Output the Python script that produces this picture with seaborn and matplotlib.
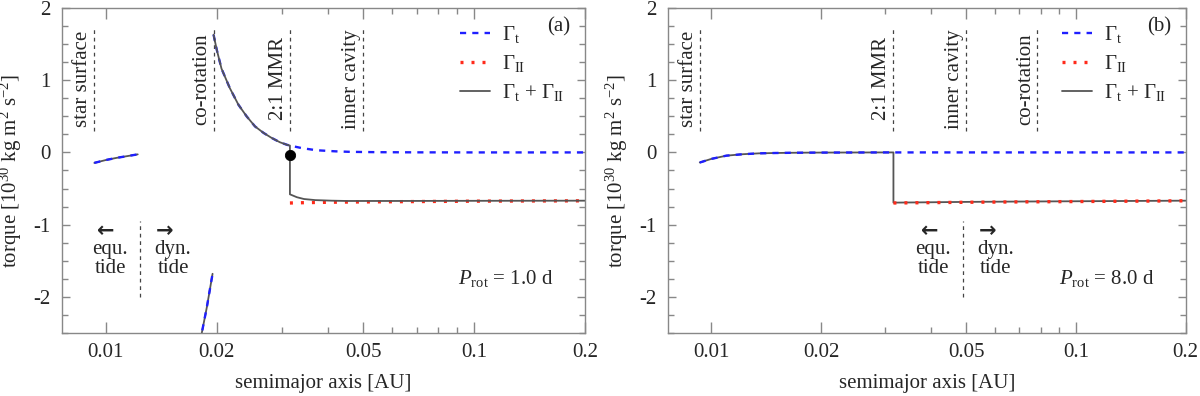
import numpy as np
import pandas as pd
import matplotlib
matplotlib.use("Agg")
import matplotlib.pyplot as plt
import seaborn as sns
from matplotlib.ticker import FixedLocator, FixedFormatter, NullFormatter
from matplotlib.lines import Line2D

sns.set_style("ticks")
plt.rcParams["font.family"] = ["Liberation Serif", "DejaVu Serif"]
plt.rcParams["mathtext.fontset"] = "custom"
plt.rcParams["mathtext.rm"] = "Liberation Serif"
plt.rcParams["mathtext.it"] = "Liberation Serif:italic"
plt.rcParams["font.size"] = 15

# ---------------- data ----------------
panel_tags = ["(a)", "(b)"]
prot_values = ["1.0", "8.0"]

x_tick_vals = [0.01, 0.02, 0.05, 0.1, 0.2]
x_tick_labels = ["0.01", "0.02", "0.05", "0.1", "0.2"]
x_minor_vals = [0.03, 0.04, 0.06, 0.07, 0.08, 0.09]
y_tick_vals = [-2, -1, 0, 1, 2]
y_tick_labels = ["-2", "-1", "0", "1", "2"]

# panel (a)
a_t1_x = [0.0093, 0.0100, 0.0107, 0.0114, 0.0122]
a_t1_y = [-0.145, -0.105, -0.075, -0.052, -0.027]
a_t2_x = [0.0180, 0.0188, 0.01948]
a_t2_y = [-2.63, -2.14, -1.68]
a_t3_x = [0.0196, 0.0200, 0.0206, 0.0217, 0.0229, 0.0241, 0.0254, 0.0268, 0.0282,
          0.0297, 0.0310, 0.0316, 0.0340, 0.0373, 0.0420, 0.0460, 0.0550, 0.0700,
          0.100, 0.140, 0.200]
a_t3_y = [1.63, 1.42, 1.16, 0.89, 0.66, 0.50, 0.36, 0.27, 0.20,
          0.14, 0.106, 0.095, 0.06, 0.03, 0.015, 0.008, 0.003, 0.001,
          0.0, 0.0, 0.0]
a_ii_x = [0.0316, 0.0350, 0.0400, 0.0500, 0.0700, 0.1000, 0.1400, 0.2000]
a_ii_y = [-0.70, -0.695, -0.69, -0.685, -0.68, -0.675, -0.672, -0.67]
a_sum_x = [0.0196, 0.0200, 0.0206, 0.0217, 0.0229, 0.0241, 0.0254, 0.0268, 0.0282,
           0.0297, 0.0310, 0.0316, 0.0316, 0.0330, 0.0345, 0.0370, 0.0410, 0.0450,
           0.0600, 0.1000, 0.2000]
a_sum_y = [1.63, 1.42, 1.16, 0.89, 0.66, 0.50, 0.36, 0.27, 0.20,
           0.14, 0.106, 0.095, -0.58, -0.62, -0.645, -0.66, -0.668, -0.672,
           -0.672, -0.67, -0.668]
a_dot_x = [0.0316]
a_dot_y = [-0.03]
a_mark_x = [0.0093, 0.0196, 0.0316, 0.05]
a_mark_labels = ["star surface", "co-rotation", "2:1 MMR", "inner cavity"]
a_tide_x = 0.01237

# panel (b)
b_t_x = [0.0093, 0.0100, 0.0110, 0.0122, 0.0135, 0.0150, 0.0166, 0.0185, 0.0210,
         0.0250, 0.0316, 0.0500, 0.1000, 0.2000]
b_t_y = [-0.14, -0.09, -0.045, -0.025, -0.013, -0.008, -0.005, -0.003, -0.002,
         -0.001, 0.0, 0.0, 0.0, 0.0]
b_ii_x = [0.0316, 0.0400, 0.0500, 0.0700, 0.1000, 0.1400, 0.2000]
b_ii_y = [-0.70, -0.695, -0.69, -0.685, -0.68, -0.675, -0.67]
b_sum_x = [0.0093, 0.0100, 0.0110, 0.0122, 0.0135, 0.0150, 0.0166, 0.0185, 0.0210,
           0.0250, 0.0316, 0.0316, 0.0400, 0.0500, 0.0700, 0.1000, 0.1400, 0.2000]
b_sum_y = [-0.14, -0.09, -0.045, -0.025, -0.013, -0.008, -0.005, -0.003, -0.002,
           -0.001, 0.0, -0.695, -0.69, -0.685, -0.68, -0.676, -0.672, -0.668]
b_mark_x = [0.0093, 0.0316, 0.05, 0.0784]
b_mark_labels = ["star surface", "2:1 MMR", "inner cavity", "co-rotation"]
b_tide_x = 0.049

# ---------------- styles ----------------
BLUE = "#1f1fff"
RED = "#ff2a1a"
GREY = "#555555"
SPINE = "#888888"
FS = 15

lab_t = r"$\Gamma_{\rm t}$"
lab_ii = r"$\Gamma_{\rm II}$"
lab_sum = r"$\Gamma_{\rm t}$ + $\Gamma_{\rm II}$"

STY = {
    "t": dict(color=BLUE, lw=1.7, dashes=(2.6, 2.6)),
    "ii": dict(color=RED, lw=2.4, dashes=(0.9, 2.4)),
    "sum": dict(color=GREY, lw=1.3),
}

fig = plt.figure(figsize=(12, 3.96), dpi=100)
ax_a = fig.add_axes([0.0517, 0.159, 0.4358, 0.821])
ax_b = fig.add_axes([0.5565, 0.159, 0.4315, 0.821])


def line(ax, xs, ys, kind):
    df = pd.DataFrame({"x": xs, "y": ys})
    sns.lineplot(data=df, x="x", y="y", ax=ax, sort=False, estimator=None,
                 legend=False, **STY[kind])


def decorate(ax, mark_x, mark_labels, tide_x, tag, prot):
    ax.set_xscale("log")
    ax.set_xlim(0.0076, 0.2)
    ax.set_ylim(-2.5, 2)
    ax.xaxis.set_major_locator(FixedLocator(x_tick_vals))
    ax.xaxis.set_major_formatter(FixedFormatter(x_tick_labels))
    ax.xaxis.set_minor_locator(FixedLocator(x_minor_vals))
    ax.xaxis.set_minor_formatter(NullFormatter())
    ax.yaxis.set_major_locator(FixedLocator(y_tick_vals))
    ax.yaxis.set_major_formatter(FixedFormatter(y_tick_labels))
    ax.yaxis.set_minor_locator(FixedLocator(np.arange(-2.5, 2.01, 0.25)))
    ax.tick_params(which="both", direction="in", top=True, right=True,
                   color=SPINE, width=1.0, labelsize=FS)
    ax.tick_params(axis="x", which="major", length=8, pad=7)
    ax.tick_params(axis="x", which="minor", length=4.5)
    ax.tick_params(axis="y", which="major", length=6, pad=8)
    ax.tick_params(axis="y", which="minor", length=4)
    for s in ax.spines.values():
        s.set_color(SPINE)
        s.set_linewidth(1.0)
    ax.set_xlabel("semimajor axis [AU]", fontsize=FS, labelpad=9)
    ax.set_ylabel(r"torque [10$^{30}$ kg m$^2$ s$^{-2}$]", fontsize=FS, labelpad=7)

    for mx, ml in zip(mark_x, mark_labels):
        ax.vlines(mx, 0.3, 1.75, colors="#444444", lw=0.9, linestyles=(0, (3, 3)))
        ax.text(mx / 1.075, 1.02, ml, rotation=90, ha="center", va="center",
                fontsize=FS)
    ax.vlines(tide_x, -2.0, -0.95, colors="#444444", lw=0.9, linestyles=(0, (3, 3)))
    ax.text(tide_x * 0.81, -1.09, "\u2190", ha="center", va="center", fontsize=15,
            family=["DejaVu Sans"], fontweight="bold")
    ax.text(tide_x * 1.165, -1.09, "\u2192", ha="center", va="center", fontsize=15,
            family=["DejaVu Sans"], fontweight="bold")
    ax.text(tide_x * 0.83, -1.47, "equ.\ntide", ha="center", va="center",
            fontsize=FS, linespacing=1.0)
    ax.text(tide_x * 1.23, -1.47, "dyn.\ntide", ha="center", va="center",
            fontsize=FS, linespacing=1.0)
    ax.text(0.94, -1.75, r"$P_{\rm rot}$ = " + prot + " d",
            transform=ax.get_yaxis_transform(), ha="right", va="center", fontsize=FS)
    ax.text(0.972, 0.943, tag, transform=ax.transAxes, ha="right", va="center",
            fontsize=FS)


# panel (a)
line(ax_a, a_t1_x, a_t1_y, "sum")
line(ax_a, a_t2_x, a_t2_y, "sum")
line(ax_a, a_t1_x, a_t1_y, "t")
line(ax_a, a_t2_x, a_t2_y, "t")
line(ax_a, a_t3_x, a_t3_y, "t")
line(ax_a, a_ii_x, a_ii_y, "ii")
line(ax_a, a_sum_x, a_sum_y, "sum")
sns.scatterplot(x=a_dot_x, y=a_dot_y, ax=ax_a, color="black", s=55, zorder=5,
                edgecolor="black", legend=False)
decorate(ax_a, a_mark_x, a_mark_labels, a_tide_x, panel_tags[0], prot_values[0])

# panel (b)
line(ax_b, b_sum_x, b_sum_y, "sum")
line(ax_b, b_t_x, b_t_y, "t")
line(ax_b, b_ii_x, b_ii_y, "ii")
decorate(ax_b, b_mark_x, b_mark_labels, b_tide_x, panel_tags[1], prot_values[1])

# legends
for ax in (ax_a, ax_b):
    handles = [Line2D([], [], **STY["t"]),
               Line2D([], [], **STY["ii"]),
               Line2D([], [], **STY["sum"])]
    ax.legend(handles, [lab_t, lab_ii, lab_sum], loc="upper left",
              bbox_to_anchor=(0.745, 0.975), frameon=False, fontsize=FS,
              handlelength=1.45, handletextpad=0.55, labelspacing=0.38,
              borderaxespad=0.0)

fig.savefig("out.png", dpi=100)
